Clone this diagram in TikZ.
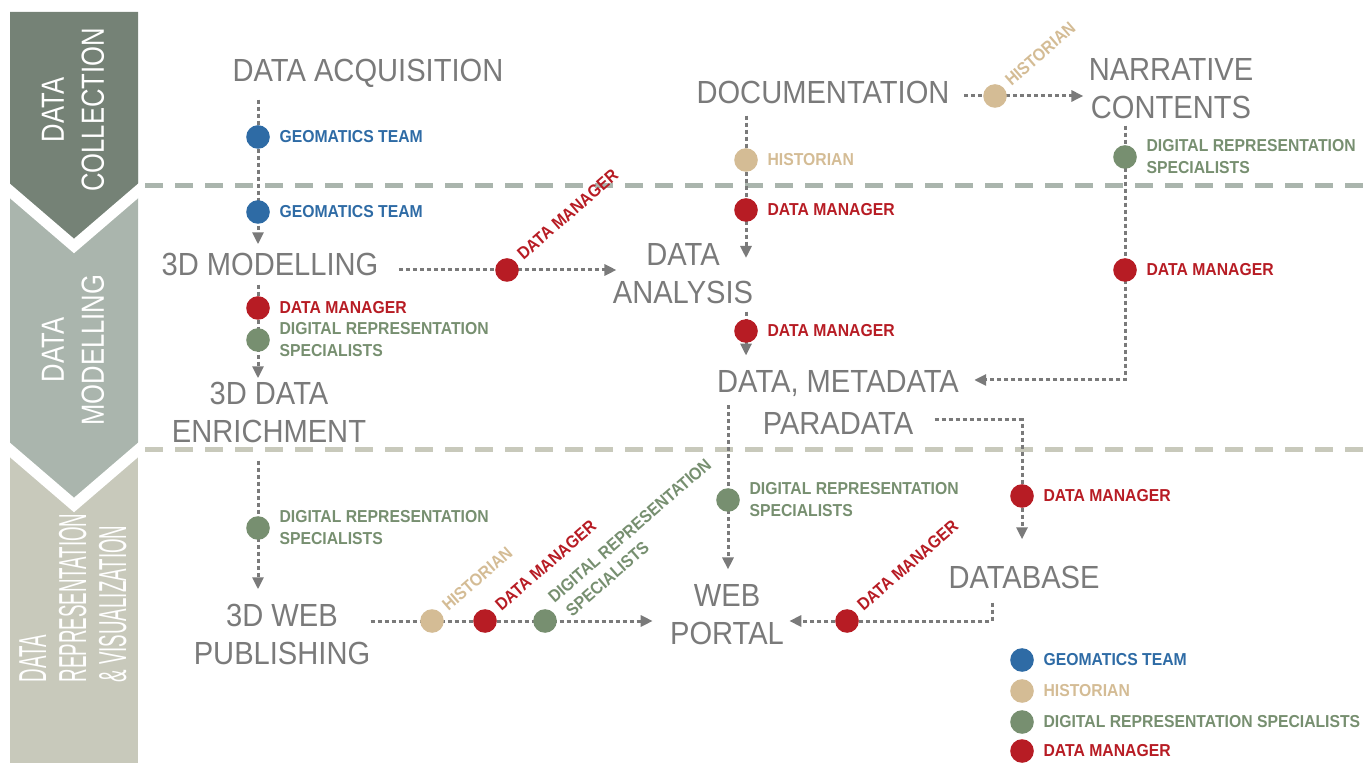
\documentclass[tikz,border=0pt]{standalone}
\usepackage{fontspec}
\setmainfont{Liberation Sans}[FakeStretch=0.91]
\newfontfamily\bannerfont{Liberation Sans}[FakeStretch=0.8]
\newfontfamily\bannernarrow{Liberation Sans}[FakeStretch=0.48]
\usetikzlibrary{arrows.meta,positioning,backgrounds}
\definecolor{stepgray}{HTML}{7A7A7A}
\definecolor{geo}{HTML}{2E6BA5}
\definecolor{hist}{HTML}{D4BC95}
\definecolor{drs}{HTML}{778F70}
\definecolor{dm}{HTML}{B71C24}
\definecolor{pnlA}{HTML}{758276}
\definecolor{pnlB}{HTML}{AAB5AD}
\definecolor{pnlC}{HTML}{C8C9BB}
\tikzset{
  >={Triangle[length=6pt,width=5.5pt]},
  stp/.style   ={font=\fontsize{16}{19}\selectfont, text=stepgray, align=center, inner sep=0pt},
  bann/.style  ={font=\bannerfont\fontsize{16}{20}\selectfont, text=white, align=center, rotate=90, inner sep=0pt},
  flow/.style  ={draw=stepgray, line width=1.5pt, dash pattern=on 2pt off 1.5pt, ->},
  dot/.style   ={circle, fill=#1, minimum size=11.8pt, inner sep=0pt},
  role/.style  ={font=\bfseries\fontsize{8.65}{11}\selectfont, text=#1, align=left, inner sep=0pt},
  rrole/.style ={role=#1, rotate=41, anchor=south west},
  sepline/.style={line width=2.5pt, dash pattern=on 9pt off 6pt},
  cut/.style   ={draw=white, line width=5.5pt}
}
\begin{document}
\begin{tikzpicture}[x=0.5pt,y=-0.5pt]
\useasboundingbox (0,0) rectangle (1363,763);
\node[bann] (bA) at (73,110) {DATA\\COLLECTION};
\node[bann] (bB) at (73,350) {DATA\\MODELLING};
\node[bann, align=left, font=\bannernarrow\fontsize{19.5}{20}\selectfont] (bC) at (73,598) {DATA\\REPRESENTATION\\\& VISUALIZATION};

\node[stp] (acq) at (368,73) {DATA ACQUISITION};
\node[stp] (doc) at (823,92) {DOCUMENTATION};
\node[stp] (narr) at (1171,89) {NARRATIVE\\CONTENTS};
\node[stp] (model) at (270,264) {3D MODELLING};
\node[stp] (anaA) at (683,254) {DATA};
\node[stp] (anaB) at (683,292) {ANALYSIS};
\node[stp] (enr) at (269,412) {3D DATA\\ENRICHMENT};
\node[stp] (meta) at (838,384) {DATA, METADATA};
\node[stp] (para) at (838,423) {PARADATA};
\node[stp] (pub) at (282,634) {3D WEB\\PUBLISHING};
\node[stp] (portal) at (727,615) {WEB\\PORTAL};
\node[stp] (db) at (1024,577) {DATABASE};

\node[dot=geo] (ga1) at (258,137) {};
\node[role=geo, right=4.5pt of ga1] (ga1t) {GEOMATICS TEAM};
\node[dot=geo] (ga2) at (258,212) {};
\node[role=geo, right=4.5pt of ga2] (ga2t) {GEOMATICS TEAM};
\node[dot=dm] (dm1) at (507,270) {};
\node[rrole=dm] (dm1t) at ([xshift=4pt]dm1.north east) {DATA MANAGER};
\node[dot=hist] (hd1) at (746,160) {};
\node[role=hist, right=4.5pt of hd1] (hd1t) {HISTORIAN};
\node[dot=dm] (dd1) at (746,210) {};
\node[role=dm, right=4.5pt of dd1] (dd1t) {DATA MANAGER};
\node[dot=hist] (hh1) at (995,96) {};
\node[rrole=hist] (hh1t) at ([xshift=4pt]hh1.north east) {HISTORIAN};
\node[dot=drs] (gn1) at (1125,157) {};
\node[role=drs, right=4.5pt of gn1] (gn1t) {DIGITAL REPRESENTATION\\SPECIALISTS};
\node[dot=dm] (dn1) at (1125,270) {};
\node[role=dm, right=4.5pt of dn1] (dn1t) {DATA MANAGER};
\node[dot=dm] (dm2) at (258,308) {};
\node[role=dm, right=4.5pt of dm2] (dm2t) {DATA MANAGER};
\node[dot=drs] (gm2) at (258,340) {};
\node[role=drs, right=4.5pt of gm2] (gm2t) {DIGITAL REPRESENTATION\\SPECIALISTS};
\node[dot=dm] (dd2) at (746,331) {};
\node[role=dm, right=4.5pt of dd2] (dd2t) {DATA MANAGER};
\node[dot=drs] (gw) at (728,500) {};
\node[role=drs, right=4.5pt of gw] (gwt) {DIGITAL REPRESENTATION\\SPECIALISTS};
\node[dot=dm] (dp) at (1022,496) {};
\node[role=dm, right=4.5pt of dp] (dpt) {DATA MANAGER};
\node[dot=dm] (dw) at (847,621) {};
\node[rrole=dm] (dwt) at ([xshift=4pt]dw.north east) {DATA MANAGER};
\node[dot=drs] (ge) at (258,528) {};
\node[role=drs, right=4.5pt of ge] (get) {DIGITAL REPRESENTATION\\SPECIALISTS};
\node[dot=hist] (hp) at (432,621) {};
\node[rrole=hist] (hpt) at ([xshift=4pt]hp.north east) {HISTORIAN};
\node[dot=dm] (dpub) at (485,621) {};
\node[rrole=dm] (dpubt) at ([xshift=4pt]dpub.north east) {DATA MANAGER};
\node[dot=drs] (gp) at (545,621) {};
\node[rrole=drs] (gpt) at ([xshift=6pt]gp.east) {DIGITAL REPRESENTATION\\\ SPECIALISTS};

\node[dot=geo] (lg1) at (1022,660) {};
\node[role=geo, right=4.5pt of lg1] (lg1t) {GEOMATICS TEAM};
\node[dot=hist] (lg2) at (1022,691) {};
\node[role=hist, right=4.5pt of lg2] (lg2t) {HISTORIAN};
\node[dot=drs] (lg3) at (1022,722) {};
\node[role=drs, right=4.5pt of lg3] (lg3t) {DIGITAL REPRESENTATION SPECIALISTS};
\node[dot=dm] (lg4) at (1022,751) {};
\node[role=dm, right=4.5pt of lg4] (lg4t) {DATA MANAGER};

\begin{scope}[on background layer]
\fill[pnlC] (10,400) rectangle (138,763);
\fill[pnlB] (10,150) -- (138,150) -- (138,450) -- (74,505) -- (10,450) -- cycle;
\fill[pnlA] (10,12) -- (138,12) -- (138,191) -- (74,246) -- (10,191) -- cycle;
\draw[cut] (3,185) -- (74,246) -- (145,185);
\draw[cut] (3,444) -- (74,505) -- (145,444);
\draw[sepline, draw=pnlB] (145,186) -- (1363,186);
\draw[sepline, draw=pnlC] (145,450) -- (1363,450);

\draw[flow, shorten <=6pt, shorten >=4pt] (acq.south -| ga1) -- (model.north -| ga1);
\draw[flow, shorten <=10pt, shorten >=-2pt] (model.east |- dm1) -- (anaB.north west |- dm1);
\draw[flow, shorten <=6pt, shorten >=-2pt] (doc.south -| hd1) -- (anaA.center -| hd1);
\draw[flow, shorten <=7pt, shorten >=2.5pt] (doc.east |- hh1) -- (narr.west |- hh1);
\draw[flow, shorten <=3pt, shorten >=7.5pt] (narr.south -| gn1) |- ([yshift=2pt]meta.east);
\draw[flow, shorten <=4.5pt, shorten >=1.5pt] (model.south -| dm2) -- (enr.north -| dm2);
\draw[flow, shorten <=4pt, shorten >=7.5pt] (anaB.south -| dd2) -- (meta.north -| dd2);
\draw[flow, shorten <=4pt, shorten >=7.5pt] (meta.south -| gw) -- (portal.north -| gw);
\draw[flow, shorten <=10.5pt, shorten >=13pt] ([yshift=1.5pt]para.east) -| (db.north -| dp);
\draw[flow, shorten <=7pt, shorten >=2.5pt] ([xshift=-16pt]db.south) |- (portal.east |- dw);
\draw[flow, shorten <=9pt, shorten >=7pt] (enr.south -| ge) -- (pub.north -| ge);
\draw[flow, shorten >=8.5pt] (pub.east |- hp) -- (portal.west |- hp);
\end{scope}
\end{tikzpicture}
\end{document}
